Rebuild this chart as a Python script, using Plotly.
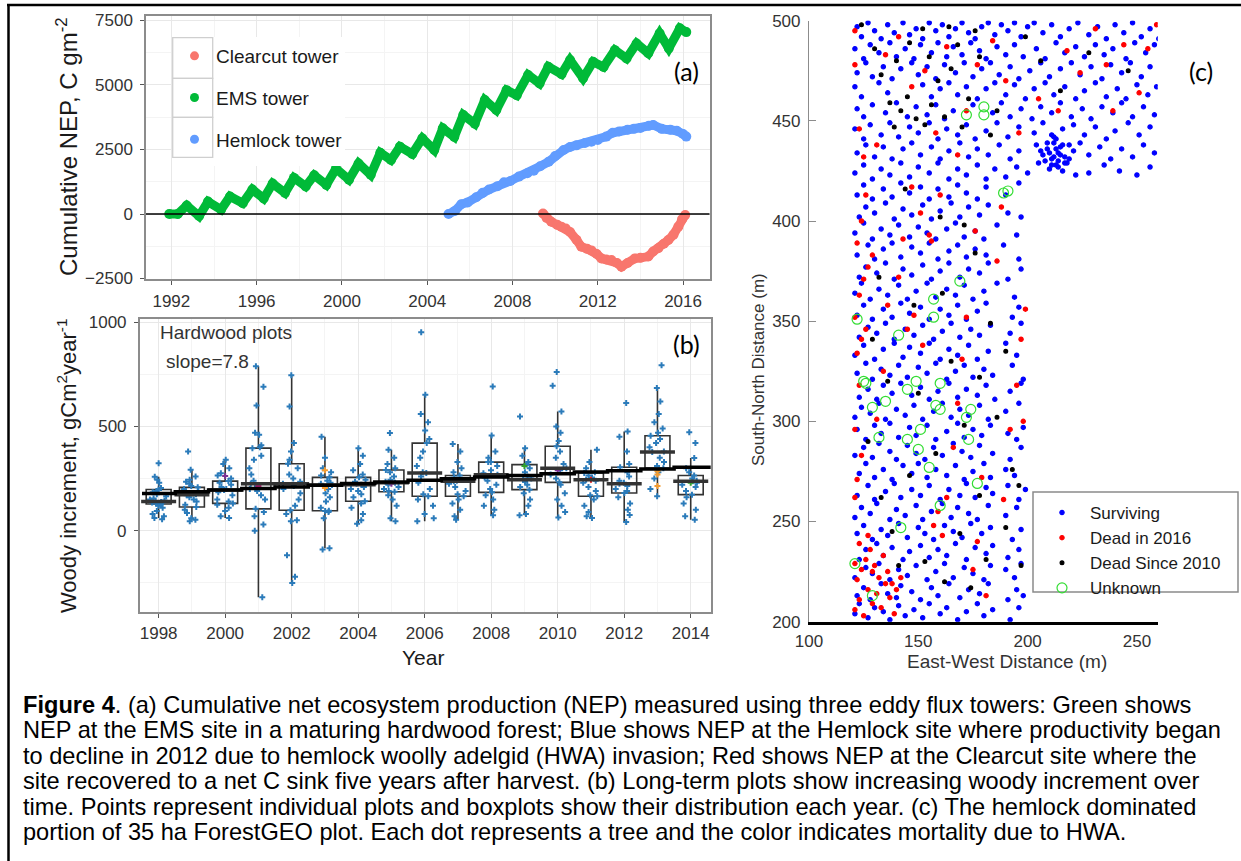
import plotly.graph_objects as go

W, H = 1241, 861
def px(x): return x / W
def py(y): return 1 - y / H

# ---------------- Panel (a): cumulative NEP ----------------
ems_year = [1991.9, 1992.3, 1992.72, 1993.3, 1993.72, 1994.33, 1994.75, 1995.35, 1995.8, 1996.33,
            1996.75, 1997.33, 1997.75, 1998.3, 1998.7, 1999.27, 1999.72, 2000.33, 2000.78, 2001.35,
            2001.8, 2002.3, 2002.72, 2003.3, 2003.77, 2004.33, 2004.73, 2005.27, 2005.69, 2006.23,
            2006.7, 2007.24, 2007.72, 2008.2, 2008.73, 2009.27, 2009.68, 2010.3, 2010.7, 2011.31,
            2011.78, 2012.27, 2012.8, 2013.35, 2013.82, 2014.37, 2014.9, 2015.33, 2015.85, 2016.15]
ems_nep = [0, 0, 330, -80, 480, 170, 680, 420, 950, 600,
           1180, 820, 1400, 1070, 1500, 1130, 1760, 1330, 1960, 1520,
           2370, 2090, 2610, 2330, 2930, 2480, 3320, 2990, 3840, 3500,
           4420, 4030, 4800, 4600, 5390, 5060, 5710, 5420, 5970, 5260,
           5900, 5700, 6350, 6030, 6610, 6230, 7000, 6420, 7200, 7050]

hem_year = [2005.0, 2005.3, 2005.6, 2005.9, 2006.3, 2006.6, 2006.9, 2007.3, 2007.6, 2007.9,
            2008.3, 2008.7, 2009.0, 2009.3, 2009.7, 2010.0, 2010.4, 2010.7, 2011.0, 2011.4,
            2011.7, 2012.0, 2012.4, 2012.7, 2013.0, 2013.4, 2013.7, 2014.0, 2014.4, 2014.6,
            2015.0, 2015.4, 2015.7, 2016.0, 2016.15]
hem_nep = [0, 120, 380, 450, 650, 820, 950, 1080, 1230, 1280,
           1450, 1580, 1680, 1850, 2030, 2250, 2480, 2600, 2660, 2750,
           2800, 2870, 3000, 3150, 3200, 3270, 3300, 3330, 3420, 3450,
           3300, 3270, 3230, 3100, 3000]

clr_year = [2009.43, 2009.6, 2009.82, 2010.1, 2010.29, 2010.5, 2010.7, 2011.0, 2011.23, 2011.5,
            2011.7, 2011.95, 2012.17, 2012.4, 2012.64, 2012.9, 2013.11, 2013.4, 2013.74, 2014.0,
            2014.37, 2014.6, 2014.84, 2015.1, 2015.31, 2015.55, 2015.78, 2015.95, 2016.1]
clr_nep = [20, -150, -300, -420, -490, -560, -700, -1000, -1270, -1350,
           -1410, -1550, -1720, -1760, -1780, -1900, -2040, -1900, -1720, -1700,
           -1650, -1450, -1330, -1150, -1010, -800, -490, -200, -40]

tower_names = ["Clearcut tower", "EMS tower", "Hemlock tower"]
tower_colors = ["#F8766D", "#00BA38", "#619CFF"]

# ---------------- Panel (b): woody increment ----------------
box_years = [1998, 1999, 2000, 2001, 2002, 2003, 2004, 2005, 2006, 2007, 2008, 2009, 2010, 2011, 2012, 2013, 2014]
box_q1 = [128, 114, 131, 105, 98, 96, 141, 187, 165, 165, 184, 197, 232, 165, 181, 300, 173]
box_med = [140, 173, 195, 225, 225, 219, 221, 230, 277, 237, 268, 245, 300, 245, 225, 377, 237]
box_q3 = [198, 208, 238, 396, 321, 256, 256, 291, 420, 265, 329, 317, 405, 277, 304, 455, 265]
box_lo = [61, 53, 61, -319, -251, -84, 34, 45, 45, 53, 74, 74, 64, 61, 42, 165, 53]
box_hi = [259, 292, 340, 788, 745, 451, 396, 388, 652, 416, 457, 396, 572, 388, 476, 684, 349]

plot_values = [
    [323, 259, 245, 230, 205, 198, 190, 185, 175, 165, 155, 150, 145, 140, 138, 135, 130, 128, 120, 110, 95, 80, 70, 61, 55],
    [380, 292, 260, 245, 235, 225, 215, 208, 200, 190, 180, 175, 170, 160, 150, 140, 125, 114, 100, 85, 60, 53, 45],
    [340, 320, 300, 275, 265, 250, 238, 230, 220, 210, 200, 195, 185, 170, 150, 140, 131, 125, 110, 95, 70, 61],
    [788, 690, 600, 470, 460, 410, 400, 396, 360, 340, 300, 270, 240, 225, 215, 200, 190, 170, 150, 105, 90, 70, 30, 0, -319],
    [745, 596, 420, 380, 340, 321, 300, 270, 250, 235, 225, 215, 200, 180, 150, 120, 98, 80, 50, 45, -118, -220, -251],
    [451, 350, 300, 280, 265, 256, 240, 230, 225, 219, 200, 180, 160, 140, 110, 96, 95, 90, 60, -84, -90],
    [396, 360, 320, 290, 270, 256, 245, 235, 225, 221, 210, 200, 190, 175, 160, 141, 130, 110, 80, 50, 34],
    [468, 388, 350, 320, 300, 291, 280, 260, 245, 235, 230, 220, 210, 200, 190, 187, 170, 150, 120, 60, 45],
    [952, 652, 560, 520, 480, 440, 420, 380, 350, 310, 280, 277, 260, 230, 200, 175, 165, 150, 120, 80, 60, 45],
    [416, 380, 330, 300, 280, 265, 255, 245, 240, 237, 225, 210, 190, 175, 165, 150, 130, 100, 70, 53],
    [692, 457, 380, 350, 330, 329, 310, 290, 275, 268, 255, 240, 220, 200, 184, 170, 150, 120, 100, 74],
    [548, 396, 360, 330, 317, 300, 280, 260, 250, 245, 235, 220, 210, 197, 180, 150, 120, 80, 74],
    [761, 695, 572, 500, 470, 430, 405, 380, 350, 320, 300, 290, 270, 250, 232, 220, 180, 150, 120, 90, 64],
    [388, 330, 300, 280, 277, 265, 255, 245, 240, 230, 210, 190, 170, 165, 150, 120, 90, 70, 61],
    [612, 476, 450, 380, 320, 304, 280, 260, 240, 230, 225, 215, 200, 190, 181, 160, 130, 100, 75, 42],
    [793, 684, 620, 560, 520, 490, 470, 455, 440, 420, 400, 380, 377, 350, 330, 310, 300, 280, 250, 200, 165],
    [472, 420, 349, 300, 280, 265, 250, 240, 237, 230, 220, 210, 190, 173, 160, 130, 100, 70, 53],
]
fit_values = [179, 187, 195, 203, 210, 218, 226, 234, 242, 249, 257, 265, 273, 281, 288, 296, 304]

hl_years = [2000, 2001, 2003, 2003, 2005, 2009, 2010, 2011, 2013, 2013, 2013, 2014]
hl_vals = [262, 215, 290, 205, 225, 310, 290, 245, 285, 270, 215, 230]
hl_colors = ['#7b3294', '#c51b7d', '#f39c32', '#f39c32', '#7b3294', '#33a02c',
             '#7b3294', '#e31a1c', '#f39c32', '#f39c32', '#f39c32', '#33a02c']

# ---------------- Panel (c): tree map ----------------
surviving = [
 (121,204),(123,209),(127,202),(130,207),(134,205),(137,201),(141,208),(144,203),(148,206),(152,202),(155,209),(160,204),(163,207),(168,201),(172,205),(177,209),(180,203),(184,206),(192,201),(196,207),
 (122,213),(125,217),(128,211),(133,219),(136,214),(140,212),(142,218),(147,215),(151,211),(156,217),(159,213),(164,219),(169,212),(173,216),(178,214),(182,219),(191,211),(195,216),(198,213),
 (121,222),(126,227),(129,224),(132,229),(137,221),(141,226),(145,223),(149,228),(154,221),(158,225),(162,229),(166,222),(171,227),(175,224),(180,221),(183,228),(190,226),(194,222),(197,229),
 (123,231),(126,236),(131,239),(134,233),(138,237),(143,231),(146,235),(151,238),(155,232),(159,236),(163,233),(167,239),(172,231),(176,237),(181,234),(184,238),(191,232),(196,236),
 (122,244),(125,248),(129,241),(133,246),(136,243),(141,249),(145,242),(150,247),(153,244),(157,241),(162,248),(166,245),(170,242),(174,249),(179,244),(183,247),(193,241),(197,246),
 (121,252),(124,257),(128,254),(131,259),(137,251),(140,256),(144,253),(149,258),(152,251),(156,255),(161,259),(165,252),(168,257),(173,254),(177,251),(182,258),(190,253),(195,257),
 (122,263),(127,268),(130,261),(135,265),(139,269),(142,262),(147,266),(151,263),(155,268),(160,261),(164,266),(169,263),(172,269),(176,262),(181,267),(184,264),(191,268),(196,261),(199,266),
 (123,274),(126,279),(130,272),(134,276),(138,271),(143,278),(147,274),(150,279),(154,272),(158,276),(163,273),(167,278),(171,271),(175,275),(180,279),(183,272),(190,276),(194,273),
 (121,283),(125,287),(129,282),(132,289),(137,285),(140,281),(145,288),(149,284),(153,281),(157,287),(161,283),(166,289),(170,285),(174,282),(178,288),(184,284),(192,281),(197,287),
 (122,296),(126,291),(130,298),(133,294),(137,299),(141,292),(146,297),(149,293),(154,298),(158,291),(163,295),(168,299),(171,292),(175,296),(179,293),(183,298),(191,294),(195,291),(198,297),
 (121,302),(124,307),(128,304),(132,309),(135,301),(140,306),(144,303),(148,308),(152,301),(157,305),(161,309),(165,302),(169,306),(173,303),(178,308),(182,301),(190,305),(196,309),
 (123,312),(127,316),(131,311),(134,318),(138,314),(142,319),(147,313),(151,317),(155,311),(159,315),(164,319),(168,312),(172,316),(177,313),(181,318),(185,311),(192,315),(197,319),
 (122,324),(126,329),(129,321),(133,326),(137,323),(141,328),(145,322),(150,327),(154,324),(158,329),(163,321),(167,325),(171,328),(175,322),(180,326),(184,323),(193,328),(198,321),
 (121,333),(125,338),(130,331),(134,336),(139,339),(143,332),(146,337),(151,334),(155,339),(160,331),(164,336),(168,333),(173,338),(177,331),(182,335),(190,339),(195,333),
 (123,342),(127,347),(131,344),(135,349),(139,341),(144,346),(148,343),(152,348),(157,341),(161,345),(165,349),(169,342),(174,346),(178,343),(183,348),(192,344),(197,349),
 (122,353),(125,358),(129,351),(134,356),(138,352),(142,359),(146,354),(151,357),(155,351),(160,356),(164,353),(168,358),(172,351),(177,355),(181,359),(193,352),(196,357),
 (121,364),(124,369),(128,361),(132,366),(136,363),(141,368),(145,361),(149,365),(154,369),(158,362),(163,366),(167,363),(171,368),(175,361),(180,365),(186,369),(194,362),
 (123,372),(126,377),(131,374),(135,379),(139,371),(143,376),(147,373),(152,378),(156,371),(160,375),(164,379),(169,372),(173,376),(178,374),(182,379),(191,371),(197,376),
 (122,383),(127,388),(130,381),(134,386),(138,389),(142,382),(147,387),(151,384),(155,389),(159,381),(164,385),(168,388),(172,382),(176,386),(181,383),(189,388),(196,381),
 (121,394),(125,399),(129,391),(133,396),(137,393),(141,398),(146,392),(150,397),(154,394),(158,391),(163,396),(167,399),(171,392),(176,395),(180,391),(186,398),(195,393),
 (123,402),(126,407),(130,404),(135,409),(139,401),(143,406),(147,403),(152,408),(156,401),(160,405),(165,409),(169,402),(173,407),(178,403),(182,408),(191,404),(197,402),
 (122,413),(125,418),(129,411),(134,416),(138,412),(142,419),(146,414),(151,417),(155,411),(159,416),(164,412),(168,418),(172,414),(177,411),(181,417),(190,413),(196,419),
 (121,424),(125,428),(129,421),(133,426),(137,423),(142,429),(146,422),(150,427),(155,424),(159,429),(164,421),(168,426),(172,423),(177,428),(181,421),(185,426),(190,422),(195,427),(200,424),(205,429),(210,426),(213,428),(216,425),(218,429),(222,423),(228,424),(235,428),(242,425),(250,423),(256,427),(261,424),
 (122,434),(126,438),(130,432),(134,437),(138,431),(143,436),(147,439),(151,433),(156,437),(160,431),(164,435),(169,439),(173,432),(177,436),(182,433),(187,438),(192,431),(196,435),(204,438),(207,433),(209,436),(211,431),(212,439),(214,434),(215,437),(217,432),(219,438),(221,435),(224,439),(228,433),(233,437),(238,431),(243,436),(248,432),(253,438),(258,434),
 (208,430),(210,434),(211,428),(212,432),(213,436),(214,430),(215,433),(216,438),(213,441),(209,439),(217,429),(211,443),(219,431),(206,435),(214,427),
 (121,446),(125,441),(128,448),(133,443),(137,449),(141,442),(146,447),(150,444),(155,449),(159,441),(163,446),(168,443),(172,448),(176,441),(181,445),(186,449),(191,442),(196,447),(203,444),(207,449),(212,442),(216,446),(221,448),(226,443),(231,447),(236,441),(240,445),(246,449),(251,443),(256,447),(261,442),
 (122,456),(125,452),(129,458),(135,454),(140,459),(145,452),(149,457),(154,453),(158,458),(162,451),(166,455),(175,458),(184,454),(188,459),(192,452),(197,456),(202,451),(206,457),(211,454),(215,459),(220,452),(225,456),(229,451),(234,457),(239,454),(243,459),(248,452),(253,457),(258,453),(261,458),
 (121,467),(124,462),(132,469),(136,464),(152,468),(156,462),(160,466),(164,469),(168,463),(172,467),(177,461),(181,466),(185,469),(190,463),(194,468),(199,461),(203,466),(208,469),(212,463),(217,467),(222,461),(226,465),(231,469),(236,462),(241,466),(245,461),(250,468),(255,463),(259,467),(262,461),
 (122,474),(126,479),(129,472),(134,477),(138,471),(142,476),(147,479),(150,473),(154,477),(158,471),(162,478),(167,474),(171,479),(175,472),(179,476),(183,479),(187,473),(192,477),(196,471),(201,475),(206,479),(210,472),(215,476),(220,479),(224,473),(229,477),(234,471),(238,478),(243,474),(247,479),(252,472),(256,477),(261,475),
 (121,486),(125,481),(128,488),(132,484),(137,489),(140,482),(144,486),(148,481),(151,488),(156,484),(159,489),(163,482),(166,487),(170,483),(174,489),(178,485),(181,481),(186,487),(190,483),(194,488),(198,482),(204,486),(208,481),(213,489),(217,484),(222,487),(226,482),(231,488),(235,483),(239,486),(245,481),(249,489),(254,484),(258,488),(261,482),
 (122,497),(124,492),(127,499),(130,495),(133,491),(136,498),(139,494),(143,499),(146,493),(149,496),(152,491),(155,499),(158,495),(161,498),(164,492),(167,496),(170,499),(173,494),(176,491),(179,497),(182,499),(185,493),(188,498),(191,495),(194,499),(197,492),(200,497),(203,499),(207,494),(211,498),(215,492),(219,496),(223,499),(228,493),(232,497),(236,491),(240,498),(244,494),(248,499),(252,492),(256,496),(260,491),
]
dead_2016 = [
 (121,206),(123,211),(125,203),(127,216),(129,209),(131,214),(133,207),(135,219),(137,212),(139,204),(122,221),(124,226),(126,231),(128,236),(130,228),(132,222),(134,233),(136,225),(138,219),(140,216),(142,222),(121,229),(123,239),(127,243),(129,225),
 (121,262),(122,271),(124,283),(121,296),(123,318),(122,334),(124,341),(126,346),(121,352),(123,363),(125,371),(127,377),(129,383),(122,389),(124,400),(126,413),
 (131,301),(134,325),(136,358),(141,372),(145,346),(148,353),(152,338),(155,393),(157,248),(159,255),(161,243),(163,262),(166,287),(168,309),(170,331),(172,352),(175,226),(177,240),(179,272),(181,213),(186,380),(189,261),(192,296),(195,318),(197,341),(199,356),(198,300),(156,390),(151,404),(147,417),(143,391),(160,413),(176,395),(188,407),
 (121,495),(121,478),(123,446),(125,432),(131,438),(135,483),(141,492),(147,467),(153,475),(158,444),(163,487),(168,433),(172,455),(177,478),(184,490),(190,470),(196,444),(205,461),(214,455),(218,485),(224,474),(231,496),(236,478),(244,488),(255,486),(259,498),(262,481),(239,455),(251,464),
]
dead_since_2010 = [
 (124,498),(130,486),(133,473),(137,459),(139,447),(142,455),(145,462),(149,451),(153,448),(156,458),(159,470),(162,452),(165,476),(168,488),(170,447),(173,461),(176,495),(178,482),(183,443),(186,455),(152,496),(146,489),(140,480),(164,497),(155,482),(199,492),(206,480),(215,465),(228,484),(246,475),
 (127,290),(133,262),(138,245),(141,228),(146,273),(150,314),(153,230),(158,284),(162,220),(165,330),(169,244),(171,298),(174,217),(178,263),(181,231),(183,349),(186,302),(190,247),(193,276),(197,228),(176,384),(160,402),(144,416),(132,372),(129,341),(148,358),(136,320),(190,335),(178,322),(171,398),(196,268),(161,364),
]
unknown = [
 (172,453),(180,457),(180,453),(189,414),(191,415),(169,370),(157,361),(157,352),(122,351),(141,343),
 (125,320),(126,319),(145,316),(135,310),(149,320),(160,319),(158,308),(160,306),(129,307),(174,306),
 (172,302),(132,292),(145,291),(151,296),(150,286),(173,291),(155,277),(177,269),(160,258),(142,247),
 (121,229),(129,213),
]

status_names = ["Surviving", "Dead in 2016", "Dead Since 2010", "Unknown"]

# ---------------- figure ----------------
fig = go.Figure()
FONT = "Liberation Sans, Arial, sans-serif"
LBL = "Lato, Carlito, Calibri, sans-serif"

for yrs, vals, col in [(clr_year, clr_nep, tower_colors[0]), (ems_year, ems_nep, tower_colors[1]), (hem_year, hem_nep, tower_colors[2])]:
    fig.add_trace(go.Scatter(x=yrs, y=vals, mode="lines+markers", line=dict(color=col, width=9),
                             marker=dict(color=col, size=10), showlegend=False, xaxis="x", yaxis="y",
                             hoverinfo="skip"))
for i, (nm, col) in enumerate(zip(tower_names, tower_colors)):
    fig.add_trace(go.Scatter(x=[None], y=[None], mode="markers", name=nm, marker=dict(color=col, size=9),
                             legend="legend", legendgroup="g%d" % i, xaxis="x", yaxis="y"))

fig.add_trace(go.Box(x=box_years, q1=box_q1, median=box_med, q3=box_q3, lowerfence=box_lo, upperfence=box_hi,
                     width=0.75, whiskerwidth=0, boxpoints=False, fillcolor="rgba(0,0,0,0)",
                     line=dict(color="#333333", width=1.6), showlegend=False, xaxis="x2", yaxis="y2"))
pts_x, pts_y = [], []
for yr, vals in zip(box_years, plot_values):
    pts_x += [yr] * len(vals)
    pts_y += vals
fig.add_trace(go.Box(x=pts_x, y=pts_y, boxpoints="all", jitter=0.75, pointpos=0, width=0.75, whiskerwidth=0,
                     fillcolor="rgba(0,0,0,0)", line=dict(color="rgba(0,0,0,0)", width=0),
                     marker=dict(symbol="cross", size=5, color="#2b7bba"), showlegend=False,
                     xaxis="x2", yaxis="y2"))
fig.add_trace(go.Scatter(x=hl_years, y=hl_vals, mode="markers",
                         marker=dict(symbol="cross", size=5, color=hl_colors), showlegend=False,
                         xaxis="x2", yaxis="y2"))
fig.add_trace(go.Scatter(x=box_years, y=box_med, mode="markers",
                         marker=dict(symbol="line-ew", size=25, line=dict(width=3.5, color="#333333")),
                         showlegend=False, xaxis="x2", yaxis="y2"))
fit_x = [y - 0.5 for y in box_years] + [box_years[-1] + 0.6]
fit_y = fit_values + [fit_values[-1]]
fig.add_trace(go.Scatter(x=fit_x, y=fit_y, mode="lines", line=dict(color="black", width=3.5, shape="hv"),
                         showlegend=False, xaxis="x2", yaxis="y2"))

for pts, nm, col, sym, sz in [(surviving, status_names[0], "#0000ff", "circle", 4.3),
                             (dead_2016, status_names[1], "#ff0000", "circle", 4.3),
                             (dead_since_2010, status_names[2], "#000000", "circle", 3.8),
                             (unknown, status_names[3], "#33dd33", "circle-open", 10)]:
    fig.add_trace(go.Scatter(x=[p[0] for p in pts], y=[p[1] for p in pts], mode="markers", name=nm,
                             marker=dict(color=col, size=sz, symbol=sym, line=dict(width=1.2, color=col)),
                             legend="legend2", xaxis="x3", yaxis="y3"))

grid = dict(showgrid=True, gridcolor="#e8e8e8", gridwidth=1.3)
ggaxis = dict(showline=True, linecolor="#8c8c8c", linewidth=1.5, mirror=True, ticks="outside",
              ticklen=4, tickwidth=1.2, tickcolor="#555555", zeroline=False, automargin=False,
              tickfont=dict(family=FONT, size=17, color="#333333"), **grid)
minor_grid = dict(showgrid=True, gridcolor="#f4f4f4", gridwidth=0.9)

fig.update_layout(
    width=W, height=H, margin=dict(l=0, r=0, t=0, b=0, autoexpand=False),
    paper_bgcolor="white", plot_bgcolor="white",
    font=dict(family=FONT, color="#1a1a1a"),
    boxmode="overlay",
    xaxis=dict(domain=[px(146), px(709.5)], range=[1990.81, 2017.24], tickmode="linear", tick0=1992, dtick=4,
               minor=dict(dtick=2, tick0=1992, **minor_grid), anchor="y", ticklabelstandoff=2, **ggaxis),
    yaxis=dict(domain=[py(279), py(16)], range=[-2519, 7674], tickmode="linear", tick0=0, dtick=2500,
               minor=dict(dtick=1250, tick0=0, **minor_grid), anchor="x", ticklabelstandoff=4, **ggaxis),
    xaxis2=dict(domain=[px(139.7), px(711)], range=[1997.43, 2014.61], tickmode="linear", tick0=1998, dtick=2,
                minor=dict(dtick=1, tick0=1998, **minor_grid), anchor="y2", ticklabelstandoff=1, **ggaxis),
    yaxis2=dict(domain=[py(612.3), py(319)], range=[-391, 1015], tickmode="linear", tick0=0, dtick=500,
                minor=dict(dtick=250, tick0=0, **minor_grid), anchor="x2", ticklabelstandoff=4, **ggaxis),
    xaxis3=dict(domain=[px(809), px(1157.7)], range=[100, 259.5], tickmode="array", tickvals=[100, 150, 200, 250],
                showline=True, linecolor="black", linewidth=3, ticks="", showgrid=False, zeroline=False,
                automargin=False,
                tickfont=dict(family=FONT, size=17, color="#333333"), ticklabelstandoff=2, anchor="y3"),
    yaxis3=dict(domain=[py(621.7), py(20.7)], range=[200, 500], tickmode="array",
                tickvals=[200, 250, 300, 350, 400, 450, 500], automargin=False,
                showline=True, linecolor="#8c8c8c", linewidth=1.2, ticks="inside", ticklen=7, tickcolor="#8c8c8c",
                showgrid=False, zeroline=False, tickfont=dict(family=FONT, size=17, color="#333333"),
                ticklabelstandoff=4, anchor="x3"),
    legend=dict(x=px(173), y=py(37), xanchor="left", yanchor="top", bgcolor="rgba(0,0,0,0)", borderwidth=0,
                font=dict(family=FONT, size=19, color="#1a1a1a"), itemwidth=33, tracegroupgap=14,
                traceorder="grouped"),
    legend2=dict(x=px(1034), y=py(495), xanchor="left", yanchor="top", bgcolor="rgba(0,0,0,0)",
                 borderwidth=0, font=dict(family=FONT, size=17, color="#1a1a1a"),
                 itemwidth=46, tracegroupgap=0),
)

shapes = []
shapes.append(dict(type="rect", xref="paper", yref="paper", x0=px(172), x1=px(345), y0=py(166), y1=py(37),
                   fillcolor="white", line=dict(width=0), layer="above"))
for top, bot in [(37.7, 78.3), (78.3, 117.3), (117.3, 157.3)]:
    shapes.append(dict(type="rect", xref="paper", yref="paper", x0=px(172.7), x1=px(212.7), y0=py(bot), y1=py(top),
                       fillcolor="rgba(0,0,0,0)", line=dict(width=1.3, color="#cfcfcf"), layer="above"))
shapes.append(dict(type="rect", xref="paper", yref="paper", x0=px(1033), x1=px(1238), y0=py(592), y1=py(492),
                   fillcolor="white", line=dict(width=1.5, color="#8a8a8a"), layer="above"))
shapes.append(dict(type="line", xref="x domain", yref="y", x0=0, x1=1, y0=0, y1=0,
                   line=dict(color="black", width=1.6), layer="above"))
shapes.append(dict(type="line", xref="paper", yref="paper", x0=px(7), x1=1, y0=py(5), y1=py(5),
                   line=dict(color="black", width=2.5)))
shapes.append(dict(type="line", xref="paper", yref="paper", x0=px(8.5), x1=px(8.5), y0=py(5), y1=0,
                   line=dict(color="black", width=2.5)))
fig.update_layout(shapes=shapes)

ann = []
def A(text, x, y, size, family=FONT, color="#1a1a1a", angle=0, xanchor="center", yanchor="middle"):
    ann.append(dict(text=text, x=px(x), y=py(y), xref="paper", yref="paper", showarrow=False,
                    font=dict(family=family, size=size, color=color), textangle=angle,
                    xanchor=xanchor, yanchor=yanchor))

A("Cumulative NEP, C gm<sup>-2</sup>", 67, 147, 24, angle=-90)
A("Woody increment, gCm<sup>2</sup>year<sup>-1</sup>", 67, 466, 22, angle=-90)
A("Year", 423, 657, 21)
A("(a)", 686, 71, 25, family=LBL, color="black")
A("(b)", 686, 344, 25, family=LBL, color="black")
A("(c)", 1201, 71, 25, family=LBL, color="black")
A("Hardwood plots", 158, 333, 19, color="#333333", xanchor="left")
A("slope=7.8", 164, 361, 19, color="#333333", xanchor="left")
A("East-West Distance (m)", 1007, 661, 19, color="#333333")
A("South-North Distance (m)", 758, 370, 17, color="#333333", angle=-90)

caption = [
    "<b>Figure 4</b>. (a) Cumulative net ecosystem production (NEP) measured using three eddy flux towers: Green shows",
    "NEP at the EMS site in a maturing hardwood forest; Blue shows NEP at the Hemlock site where productivity began",
    "to decline in 2012 due to hemlock woolly adelgid (HWA) invasion; Red shows NEP at the Clearcut site where the",
    "site recovered to a net C sink five years after harvest. (b) Long-term plots show increasing woody increment over",
    "time. Points represent individual plots and boxplots show their distribution each year. (c) The hemlock dominated",
    "portion of 35 ha ForestGEO plot. Each dot represents a tree and the color indicates mortality due to HWA.",
]
for i, line in enumerate(caption):
    A(line, 21, 705 + 25.4 * i, 23.6, color="black", xanchor="left")

fig.update_layout(annotations=ann)
fig.write_html("out.html", config={"displayModeBar": False},
               post_script="document.body.style.margin='0px';document.body.style.overflow='hidden';")
